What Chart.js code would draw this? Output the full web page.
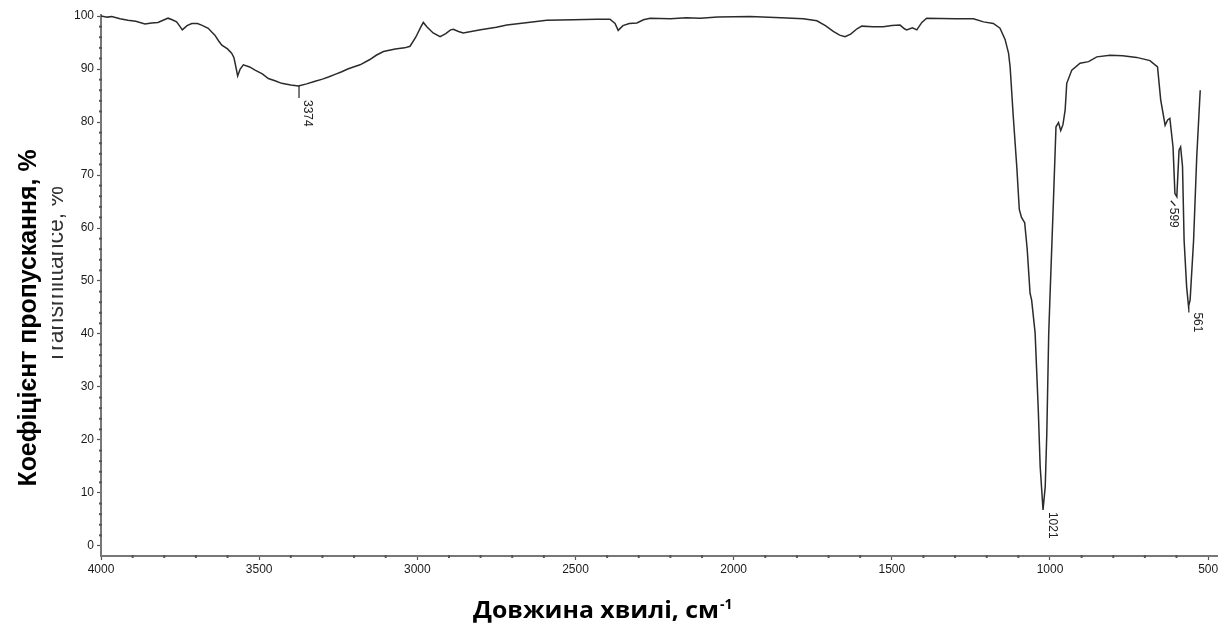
<!DOCTYPE html>
<html>
<head>
<meta charset="utf-8">
<script src="https://cdn.jsdelivr.net/npm/chart.js@4.4.1/dist/chart.umd.min.js"></script>
<style>
  body { margin: 0; background: #fff; }
  .wrap { width: 1229px; height: 624px; position: relative; }
</style>
</head>
<body>
<div class="wrap"><canvas id="irChart"></canvas></div>
<script>
// IR spectrum (cm-1 -> % transmittance)
const wavenumbers = [
  4000, 3980, 3966, 3940, 3915, 3890, 3861, 3840, 3820, 3800, 3788, 3775, 3761, 3750, 3743,
  3728, 3713, 3695, 3682, 3661, 3650, 3640, 3628, 3618, 3600, 3587, 3580, 3576, 3568, 3560,
  3550, 3530, 3513, 3490, 3471, 3450, 3429, 3400, 3376, 3350, 3323, 3300, 3281, 3260, 3239,
  3220, 3202, 3181, 3150, 3130, 3107, 3070, 3040, 3023, 3005, 2990, 2981, 2970, 2950, 2928,
  2910, 2895, 2886, 2870, 2855, 2800, 2750, 2717, 2650, 2591, 2507, 2433, 2391, 2375, 2365,
  2350, 2330, 2306, 2285, 2264, 2200, 2150, 2106, 2050, 1948, 1850, 1780, 1737, 1710, 1685,
  1665, 1648, 1630, 1610, 1595, 1560, 1527, 1500, 1474, 1460, 1453, 1435, 1421, 1405, 1390,
  1300, 1242, 1210, 1179, 1158, 1142, 1131, 1126, 1116, 1105, 1097, 1090, 1080, 1072, 1063,
  1058, 1047, 1037, 1031, 1022, 1015, 1010, 1004, 1000, 989, 981, 973, 966, 959, 952,
  947, 931, 905, 878, 852, 810, 770, 726, 684, 660, 650, 636, 628, 621, 611,
  605, 599, 592, 587, 581, 576, 568, 562, 557, 546, 536, 525
];
const transmittance = [
  100.0, 99.8, 99.9, 99.5, 99.2, 99.0, 98.5, 98.7, 98.8, 99.3, 99.6, 99.3, 98.9, 98.0, 97.4,
  98.2, 98.6, 98.6, 98.3, 97.7, 97.0, 96.4, 95.3, 94.5, 93.8, 93.0, 92.2, 91.1, 88.7, 90.0,
  90.8, 90.4, 89.8, 89.1, 88.2, 87.8, 87.3, 87.0, 86.8, 87.2, 87.7, 88.1, 88.5, 89.0, 89.5,
  90.0, 90.4, 90.8, 91.8, 92.6, 93.3, 93.8, 94.0, 94.3, 96.0, 97.8, 98.8, 98.0, 96.8, 96.1,
  96.7, 97.4, 97.5, 97.1, 96.8, 97.4, 97.9, 98.3, 98.8, 99.2, 99.3, 99.4, 99.4, 98.6, 97.3,
  98.2, 98.6, 98.7, 99.3, 99.6, 99.5, 99.7, 99.6, 99.8, 99.9, 99.7, 99.5, 99.1, 98.2, 97.1,
  96.4, 96.1, 96.6, 97.6, 98.1, 98.0, 98.0, 98.2, 98.3, 97.6, 97.4, 97.8, 97.4, 98.8, 99.6,
  99.5, 99.5, 98.9, 98.6, 97.7, 95.6, 93.0, 90.4, 81.0, 71.6, 63.5, 62.0, 61.0, 56.0, 47.7,
  46.4, 40.2, 25.7, 15.0, 6.8, 11.2, 21.3, 40.0, 47.0, 65.3, 79.1, 79.9, 78.4, 79.5, 82.3,
  87.3, 89.8, 91.1, 91.4, 92.3, 92.6, 92.5, 92.2, 91.6, 90.4, 84.2, 79.4, 80.4, 80.7, 75.3,
  66.5, 65.9, 74.7, 75.3, 71.6, 57.7, 48.9, 45.2, 46.4, 57.7, 73.5, 86.0
];
const xTickValues = [4000, 3500, 3000, 2500, 2000, 1500, 1000, 500];
const yTickValues = [0, 10, 20, 30, 40, 50, 60, 70, 80, 90, 100];
const peakPositions = [3374, 1021, 599, 561];
const peakValues = [86.8, 6.8, 65.9, 45.2];
const peakLabels = ['3374', '1021', '599', '561'];
const xTitle = 'Довжина хвилі, см';
const xTitleSup = '-1';
const yTitle = 'Коефіцієнт пропускання, %';
const oldYTitle = 'Transmittance, %';

const points = wavenumbers.map((w, i) => ({ x: w, y: transmittance[i] }));

// where each peak label sits relative to its point
const peakStyle = [
  { dx: 8.5, dy: 14, leader: [[0, 0], [0, 12]] },
  { dx: 9, dy: 2, leader: null },
  { dx: -4, dy: 11, leader: [[-6, 4], [-1.5, 9]] },
  { dx: 8.5, dy: 6, leader: [[0, 0], [0, 6]] }
];

const tickFont = { family: '"Liberation Sans", Arial, sans-serif', size: 12 };

const annotate = {
  id: 'annotate',
  afterDraw(chart) {
    const { ctx, scales } = chart;
    const xs = scales.x, ys = scales.y;
    const area = chart.chartArea;

    // minor ticks
    ctx.save();
    ctx.fillStyle = '#555';
    for (let v = 500; v <= 4000; v += 100) {
      if (v % 500 === 0) continue;
      const px = xs.getPixelForValue(v);
      ctx.fillRect(px - 1, area.bottom - 1, 2, 3);
    }
    for (let v = 0; v <= 100; v += 2) {
      if (v % 10 === 0) continue;
      const py = ys.getPixelForValue(v);
      ctx.fillRect(area.left - 2, py - 1, 3, 2);
    }
    ctx.restore();

    // peak labels
    ctx.save();
    ctx.fillStyle = '#222';
    ctx.strokeStyle = '#222';
    ctx.lineWidth = 1.2;
    ctx.font = '12px "Liberation Sans", Arial, sans-serif';
    peakPositions.forEach((p, i) => {
      const px = xs.getPixelForValue(p);
      const py = ys.getPixelForValue(peakValues[i]);
      const st = peakStyle[i];
      if (st.leader) {
        ctx.beginPath();
        ctx.moveTo(px + st.leader[0][0], py + st.leader[0][1]);
        ctx.lineTo(px + st.leader[1][0], py + st.leader[1][1]);
        ctx.stroke();
      }
      ctx.save();
      ctx.translate(px + st.dx, py + st.dy);
      ctx.rotate(Math.PI / 2);
      ctx.textAlign = 'left';
      ctx.textBaseline = 'middle';
      ctx.fillText(peakLabels[i], 0, 0);
      ctx.restore();
    });
    ctx.restore();

    // old, half hidden axis title of the original plot
    ctx.save();
    ctx.beginPath();
    ctx.rect(52, 150, 20, 260);
    ctx.clip();
    ctx.translate(63, 275);
    ctx.rotate(-Math.PI / 2);
    ctx.fillStyle = '#333';
    ctx.font = '23px "Liberation Sans", Arial, sans-serif';
    ctx.textAlign = 'center';
    ctx.textBaseline = 'alphabetic';
    ctx.fillText(oldYTitle, 0, 0);
    ctx.restore();

    // y title
    ctx.save();
    ctx.translate(29, 318);
    ctx.rotate(-Math.PI / 2);
    ctx.fillStyle = '#000';
    ctx.font = 'bold 25px "Liberation Sans", Arial, sans-serif';
    ctx.textAlign = 'center';
    ctx.textBaseline = 'middle';
    const yw = ctx.measureText(yTitle).width;
    ctx.scale(337 / yw, 1);
    ctx.fillText(yTitle, 0, 0);
    ctx.restore();

    // x title, stretched like the source picture, then the superscript
    ctx.save();
    ctx.fillStyle = '#000';
    ctx.font = 'bold 23px "Open Sans", Lato, sans-serif';
    ctx.textBaseline = 'alphabetic';
    const w = ctx.measureText(xTitle).width;
    ctx.save();
    ctx.translate(473, 618);
    ctx.scale(246 / w, 1);
    ctx.fillText(xTitle, 0, 0);
    ctx.restore();
    ctx.font = 'bold 14px "Open Sans", Lato, sans-serif';
    ctx.fillText(xTitleSup, 473 + 246 + 1, 609);
    ctx.restore();
  }
};

new Chart(document.getElementById('irChart'), {
  type: 'line',
  data: {
    datasets: [{
      data: points,
      borderColor: '#2b2b2b',
      borderWidth: 1.5,
      pointRadius: 0,
      tension: 0,
      fill: false
    }]
  },
  options: {
    responsive: true,
    maintainAspectRatio: false,
    animation: false,
    layout: { padding: { top: 15, right: 12, left: 0, bottom: 0 } },
    plugins: { legend: { display: false }, tooltip: { enabled: false } },
    scales: {
      x: {
        type: 'linear',
        reverse: true,
        min: 472,
        max: 4000,
        afterFit: s => { s.height = 68; },
        afterBuildTicks: s => { s.ticks = xTickValues.map(v => ({ value: v })); },
        grid: { drawOnChartArea: false, tickLength: 4, tickColor: '#555', tickWidth: 1.2 },
        border: { color: '#777', width: 2 },
        ticks: {
          color: '#1a1a1a',
          font: tickFont,
          padding: 2,
          maxRotation: 0,
          autoSkip: false,
          callback: v => String(v)
        }
      },
      y: {
        type: 'linear',
        min: -1.9,
        max: 100.2,
        afterFit: s => { s.width = 101; },
        afterBuildTicks: s => { s.ticks = yTickValues.map(v => ({ value: v })); },
        grid: { drawOnChartArea: false, tickLength: 4, tickColor: '#555', tickWidth: 1.2 },
        border: { color: '#777', width: 2 },
        ticks: {
          color: '#1a1a1a',
          font: tickFont,
          padding: 3,
          autoSkip: false,
          callback: v => String(v)
        }
      }
    }
  },
  plugins: [annotate]
});
</script>
</body>
</html>
